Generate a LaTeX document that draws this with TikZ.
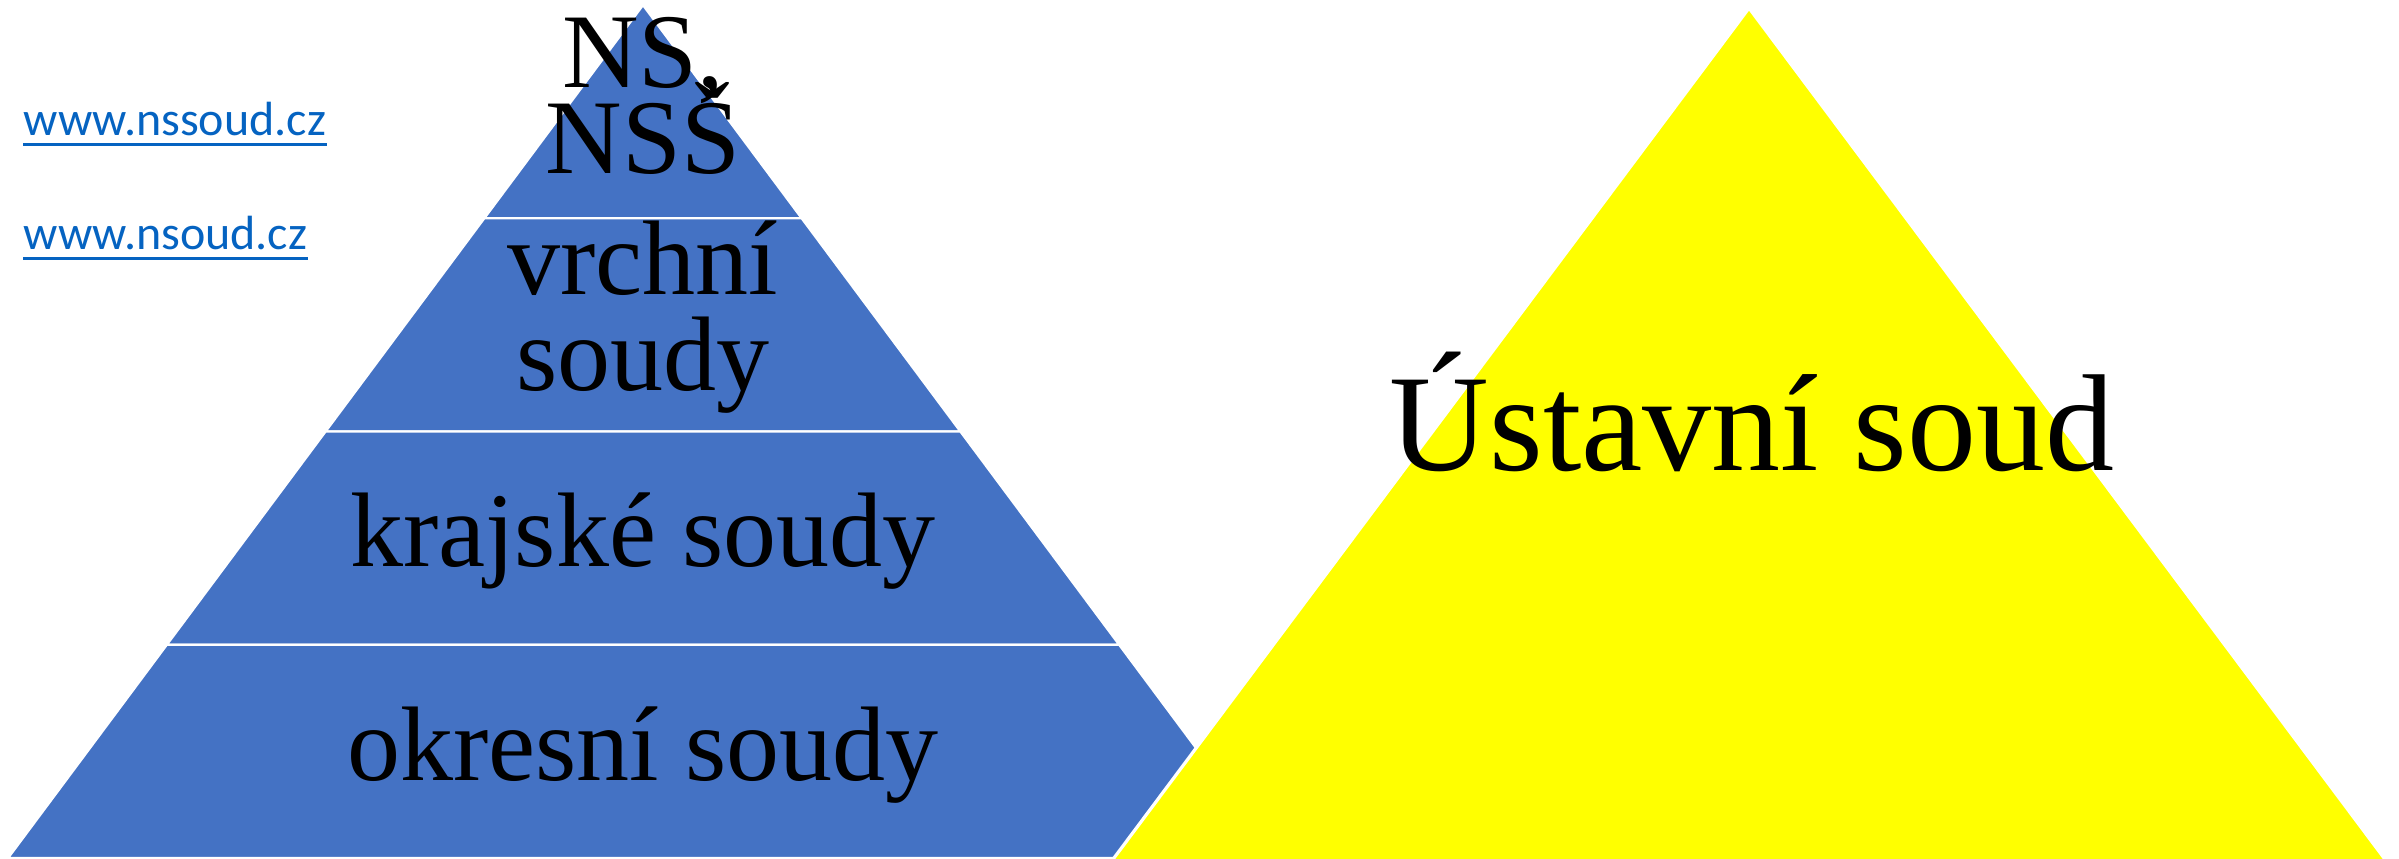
\documentclass[tikz,border=0pt]{standalone}
\usepackage{fontspec}
\setmainfont{Liberation Serif}
\newfontfamily\linkfont{Carlito}
\usetikzlibrary{
  calc,         % Points along the pyramid edges
}
\definecolor{tierblue}{HTML}{4472C4}
\definecolor{linkblue}{HTML}{0563C1}
\definecolor{courtyellow}{HTML}{FFFF00}
\newcommand{\tierfont}[1]{\fontsize{26.5}{#1}\selectfont\lineskiplimit=-30pt\relax}
\tikzset{
  tier/.style={
    fill=tierblue,
    draw=white,
    line width=0.6pt
  },
  court/.style={
    fill=courtyellow,
    draw=white,
    line width=0.8pt
  },
  tier text/.style={
    font=\tierfont{21.5},
    align=center,
    inner sep=0pt
  },
  tier text wide/.style={
    tier text,
    font=\tierfont{24}
  },
  court text/.style={
    font=\fontsize{34.5}{40}\selectfont,
    inner sep=0pt
  },
  link/.style={
    font=\linkfont\fontsize{12}{14}\selectfont,
    text=linkblue,
    inner sep=0pt,
    anchor=base west
  },
  link line/.style={
    draw=linkblue,
    line width=0.7pt
  }
}

\begin{document}
\begin{tikzpicture}[x=0.25pt,y=-0.25pt]
\useasboundingbox (0,0) rectangle (2399,858);
% pyramid of general courts
\coordinate (top)   at (643,5);
\coordinate (left)  at (8,858);
\coordinate (right) at (1278,858);
\foreach \a/\b in {0/0.25,0.25/0.5,0.5/0.75,0.75/1}
  \path[tier] ($(top)!\a!(left)$) -- ($(top)!\b!(left)$)
           -- ($(top)!\b!(right)$) -- ($(top)!\a!(right)$) -- cycle;
% constitutional court
\coordinate (utop)   at (1749,8);
\coordinate (uleft)  at (1105,870);
\coordinate (uright) at (2393,870);
\path[court] (utop) -- (uleft) -- (uright) -- cycle;
% texts (base = last line)
\node[tier text,anchor=base]      (ns)      at (643,173) {NS,\\NSŠ};
\node[tier text wide,anchor=base] (vrchni)  at (643,390) {vrchní\\soudy};
\node[tier text,anchor=base]      (krajske) at (643,566) {krajské soudy};
\node[tier text,anchor=base]      (okresni) at (643,780) {okresní soudy};
\node[court text,anchor=base]     (ustavni) at (1752,470) {Ústavní soud};
% links
\node[link] (nssoud) at (23,135) {www.nssoud.cz};
\node[link] (nsoud)  at (23,249) {www.nsoud.cz};
\draw[link line] ([yshift=-2.3pt]nssoud.base west) -- ([yshift=-2.3pt]nssoud.base east);
\draw[link line] ([yshift=-2.3pt]nsoud.base west)  -- ([yshift=-2.3pt]nsoud.base east);
\end{tikzpicture}
\end{document}
